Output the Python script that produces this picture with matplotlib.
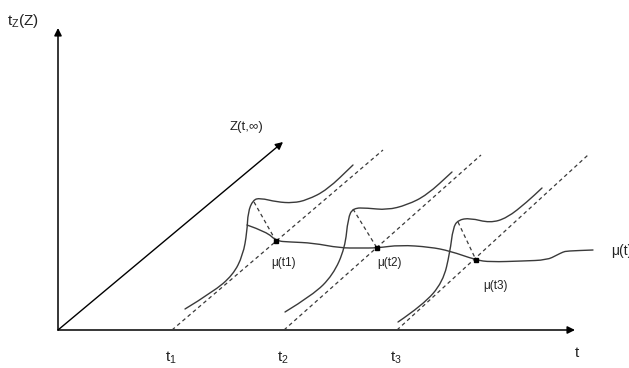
import matplotlib.pyplot as plt
from matplotlib.patches import FancyArrowPatch, PathPatch
from matplotlib.path import Path

plt.rcParams['font.family'] = ['Liberation Sans', 'DejaVu Sans']
plt.rcParams['mathtext.fontset'] = 'custom'
plt.rcParams['mathtext.rm'] = 'Liberation Sans'
plt.rcParams['mathtext.it'] = 'Liberation Sans'

# diagram units: x to the right, y downward (page layout)
origin = (58, 330)
t_axis_end = (575, 330)
z_axis_end = (58, 28)
z_inf_end = (283, 142)

# start times t1..t3 and the top ends of their dashed lines
t_starts = [172, 284, 397]
dash_tops = [(383, 150), (481, 155), (588, 155)]

# the three S-shaped profiles
curve1_x = [185, 213, 233, 243, 247, 248, 253, 260, 277, 293, 307, 327, 353]
curve1_y = [309, 292, 275, 255, 232, 212, 200, 198, 202, 203, 200, 190, 165]
curve2_x = [285, 313, 333, 345, 348, 353, 367, 387, 407, 427, 452]
curve2_y = [312, 295, 275, 248, 218, 208, 208, 210, 205, 195, 172]
curve3_x = [398, 423, 443, 450, 453, 458, 470, 490, 507, 527, 542]
curve3_y = [322, 305, 282, 252, 228, 220, 218, 223, 218, 202, 188]

# mu(t) path
mu_x = [247, 267, 276, 290, 313, 340, 360, 377, 400, 430, 450, 476, 490, 523,
        547, 557, 563, 567, 593]
mu_y = [225, 232, 241, 242, 243, 248, 248, 248, 245, 247, 251, 260, 262, 261,
        260, 255, 252, 251, 250]

# points mu(t_i) and the peaks they are tied to
mu_pts = [(276, 241), (377, 248), (476, 260)]
peaks = [(254, 202), (353, 209), (458, 222)]
mu_labels = ['μ(t1)', 'μ(t2)', 'μ(t3)']
mu_label_pos = [(284, 263), (390, 263), (496, 286)]
t_labels = ['t$_1$', 't$_2$', 't$_3$']

fig = plt.figure(figsize=(6.29, 3.68), dpi=100)
ax = fig.add_axes([0, 0, 1, 1])
ax.set_xlim(0, 629)
ax.set_ylim(368, 0)
ax.axis('off')

ink = '#222222'
line = '#3a3a3a'


def arrow(p0, p1, lw=1.1):
    ax.add_patch(FancyArrowPatch(p0, p1, arrowstyle='-|>', mutation_scale=11,
                                 color='black', lw=lw, shrinkA=0, shrinkB=0))


def smooth(xs, ys, lw=1.0):
    # quadratic bezier through the midpoints, read points act as controls
    pts = list(zip(xs, ys))
    verts = [pts[0]]
    codes = [Path.MOVETO]
    for i in range(1, len(pts) - 1):
        mid = ((pts[i][0] + pts[i + 1][0]) / 2, (pts[i][1] + pts[i + 1][1]) / 2)
        verts += [pts[i], mid]
        codes += [Path.CURVE3, Path.CURVE3]
    verts.append(pts[-1])
    codes.append(Path.LINETO)
    ax.add_patch(PathPatch(Path(verts, codes), fill=False, edgecolor=line,
                           lw=lw, capstyle='round'))


arrow(origin, t_axis_end)
arrow(origin, z_axis_end)
arrow(origin, z_inf_end, lw=1.0)

for t0, (xt, yt) in zip(t_starts, dash_tops):
    ax.plot([t0, xt], [origin[1], yt], color=line, lw=0.9, ls=(0, (3, 2.5)))

for cx, cy in [(curve1_x, curve1_y), (curve2_x, curve2_y), (curve3_x, curve3_y)]:
    smooth(cx, cy)

smooth(mu_x, mu_y)

for (px, py), (qx, qy) in zip(peaks, mu_pts):
    ax.plot([px, qx], [py, qy], color=line, lw=0.9, ls=(0, (3, 2.5)))
    ax.plot(qx, qy, 's', color='black', ms=2.5)

for lab, (lx, ly) in zip(mu_labels, mu_label_pos):
    ax.text(lx, ly, lab, fontsize=8.5, color=ink, ha='center', va='center')

ax.text(611, 251, 'μ(t)', fontsize=10, color=ink, ha='left', va='center')

for t0, lab in zip(t_starts, t_labels):
    ax.text(t0 - 1, 358, lab, fontsize=11, color=ink, ha='center', va='center')
ax.text(577, 353, 't', fontsize=11, color=ink, ha='center', va='center')

ax.text(7, 21, 't$_Z$(Z)', fontsize=11, color=ink, ha='left', va='center')
ax.text(230, 127, 'Z(t,∞)', fontsize=9.5, color=ink, ha='left', va='center')

fig.savefig('out.png', dpi=100)
